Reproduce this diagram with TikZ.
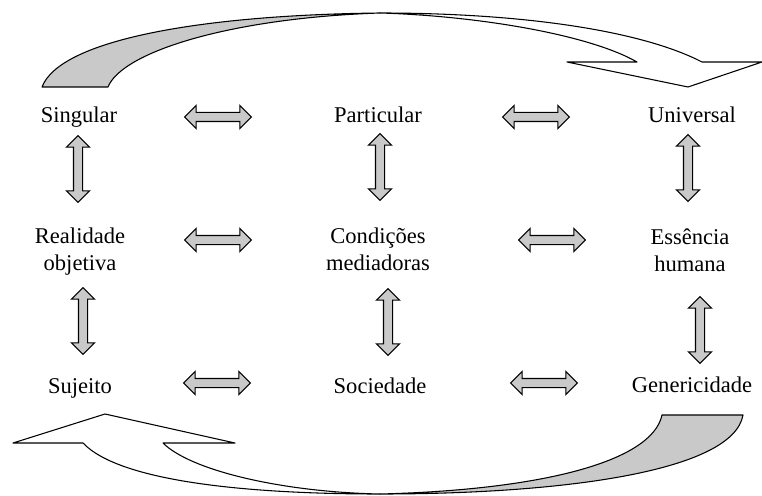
\documentclass[tikz,border=0pt]{standalone}
\usepackage{fontspec}
\setmainfont{Liberation Serif}
\usetikzlibrary{shapes.arrows}

\tikzset{
	lbl/.style={anchor=base,align=center,inner sep=0pt,font=\fontsize{16.9}{20.25}\selectfont},
	dblarr/.style={double arrow,draw,thick,fill=gray!42,minimum height=50pt,minimum width=16.5pt,
		double arrow head extend=5.25pt,inner sep=3pt},
	band/.style={draw,thick,line join=round}
}

\begin{document}
\begin{tikzpicture}[
	x=0.75pt,
	y=-0.75pt,
	line cap=round
	]
	\useasboundingbox (0,0) rectangle (762,495);
	% top arrow
	\path[band,fill=white] (380,13) .. controls (520,13) and (640,30) .. (702,62) -- (762,62) -- (688,87) -- (567,62) -- (637,62)
		.. controls (590,35) and (480,16) .. (380,13) -- cycle;
	\path[band,fill=gray!42] (42,87) .. controls (60,40) and (200,15) .. (380,13)
		.. controls (230,18) and (122,52) .. (108,87) -- cycle;
	% bottom arrow
	\path[band,fill=white] (83,443) .. controls (120,482) and (250,494) .. (380,494)
		.. controls (280,492) and (190,470) .. (163,443) -- (235,443) -- (105,414) -- (13,443) -- cycle;
	\path[band,fill=gray!42] (662,415) .. controls (652,462) and (540,490) .. (380,494)
		.. controls (560,494) and (733,472) .. (743,415) -- cycle;
	% labels
	\node[lbl] (sing) at (79,123) {Singular};
	\node[lbl] (part) at (378,123) {Particular};
	\node[lbl] (univ) at (692,123) {Universal};
	\node[lbl] (real) at (80,270) {Realidade\\objetiva};
	\node[lbl] (cond) at (378,270) {Condições\\mediadoras};
	\node[lbl] (ess) at (690,271) {Essência\\humana};
	\node[lbl] (suj) at (80,393) {Sujeito};
	\node[lbl] (soc) at (380,393) {Sociedade};
	\node[lbl] (gen) at (692,392) {Genericidade};
	% double arrows
	\node[dblarr] (sing-part) at (218,117) {};
	\node[dblarr] (part-univ) at (536,117) {};
	\node[dblarr] (real-cond) at (218,240) {};
	\node[dblarr] (cond-ess) at (552,240) {};
	\node[dblarr] (suj-soc) at (217,383) {};
	\node[dblarr] (soc-gen) at (544,383) {};
	\node[dblarr,rotate=90] (sing-real) at (78,169) {};
	\node[dblarr,rotate=90] (real-suj) at (83,321) {};
	\node[dblarr,rotate=90] (part-cond) at (380,167) {};
	\node[dblarr,rotate=90] (cond-soc) at (388,322) {};
	\node[dblarr,rotate=90] (univ-ess) at (688,168) {};
	\node[dblarr,rotate=90] (ess-gen) at (700,330) {};
\end{tikzpicture}
\end{document}
